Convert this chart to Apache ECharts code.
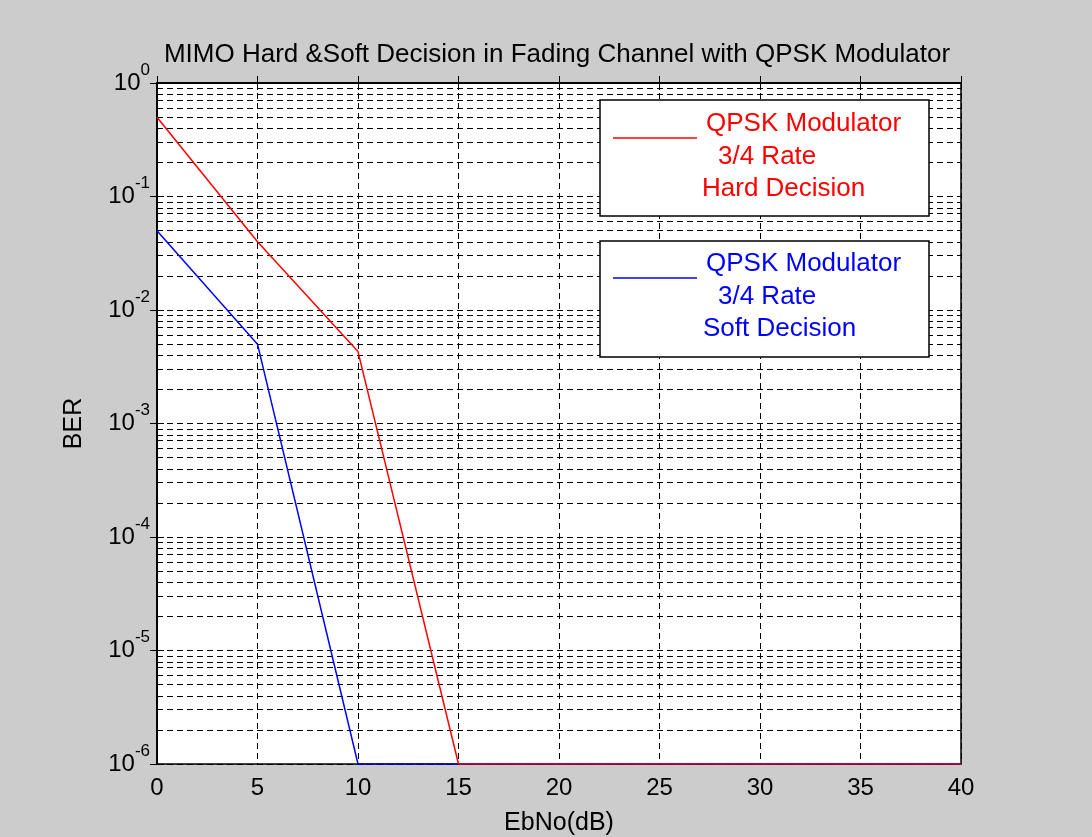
<!DOCTYPE html>
<html>
<head>
<meta charset="utf-8">
<script src="https://cdn.jsdelivr.net/npm/echarts@6/dist/echarts.min.js"></script>
<style>
  html, body { margin: 0; padding: 0; background: #cccccc; }
  #main { width: 1092px; height: 837px; }
</style>
</head>
<body>
<div id="main"></div>
<script>
// EbNo (dB) sample points
var ebno = [0, 5, 10, 15, 20, 25, 30, 35, 40];
// BER, hard decision (red) and soft decision (blue)
var berHard = [0.5, 0.04, 0.0043, 1e-6, 1e-6, 1e-6, 1e-6, 1e-6, 1e-6];
var berSoft = [0.05, 0.005, 1e-6, 1e-6, 1e-6, 1e-6, 1e-6, 1e-6, 1e-6];
var xTicks = [0, 5, 10, 15, 20, 25, 30, 35, 40];
var yDecades = [-6, -5, -4, -3, -2, -1, 0];

var FONT = 'Arial, "Liberation Sans", sans-serif';
var DASH = [6, 4];

// minor log grid lines (2..9 in every decade), placed on a hidden
// linear axis that runs in log10 units
var minorLines = [];
for (var e = -6; e < 0; e++) {
  for (var m = 2; m <= 9; m++) {
    minorLines.push({ yAxis: e + Math.log10(m) });
  }
}

function pairs(xs, ys) {
  return xs.map(function (x, i) { return [x, ys[i]]; });
}

var myChart = echarts.init(document.getElementById('main'));

var option = {
  backgroundColor: '#cccccc',
  animation: false,
  title: {
    text: 'MIMO Hard &Soft Decision in Fading Channel with QPSK Modulator',
    left: 552,
    top: 37,
    textAlign: 'center',
    textStyle: { fontFamily: FONT, fontSize: 26, fontWeight: 'normal', color: '#000' }
  },
  grid: {
    left: 157,
    top: 83,
    right: 131,
    bottom: 73,
    outerBoundsMode: 'none',
    show: true,
    backgroundColor: '#ffffff',
    borderColor: '#000',
    borderWidth: 1.5
  },
  xAxis: [
    {
      type: 'value',
      min: 0,
      max: 40,
      interval: 5,
      name: 'EbNo(dB)',
      nameLocation: 'middle',
      nameGap: 47,
      nameTextStyle: { fontFamily: FONT, fontSize: 25, color: '#000' },
      axisLine: { lineStyle: { color: '#000', width: 1.5 } },
      axisTick: { inside: true, length: 7, lineStyle: { color: '#000' } },
      axisLabel: {
        margin: 12,
        fontFamily: FONT,
        fontSize: 24,
        color: '#000',
        formatter: function (v) { return xTicks.indexOf(v) >= 0 ? String(v) : ''; }
      },
      splitLine: { show: true, lineStyle: { color: '#000', type: DASH, width: 1 } }
    },
    {
      type: 'value',
      position: 'top',
      min: 0,
      max: 40,
      interval: 5,
      axisLine: { lineStyle: { color: '#000', width: 1.5 } },
      axisTick: { inside: true, length: 7, lineStyle: { color: '#000' } },
      axisLabel: { show: false },
      splitLine: { show: false }
    }
  ],
  yAxis: [
    {
      type: 'log',
      logBase: 10,
      min: 1e-6,
      max: 1,
      name: 'BER',
      nameLocation: 'middle',
      nameGap: 70,
      nameRotate: 90,
      nameTextStyle: { fontFamily: FONT, fontSize: 25, color: '#000' },
      axisLine: { lineStyle: { color: '#000', width: 1.5 } },
      axisTick: { inside: true, length: 7, lineStyle: { color: '#000' } },
      axisLabel: {
        margin: 7,
        formatter: function (v) {
          var p = Math.round(Math.log10(v));
          if (yDecades.indexOf(p) < 0) return '';
          return '{b|10}{s|' + p + '}';
        },
        rich: {
          b: { fontFamily: FONT, fontSize: 24, color: '#000', lineHeight: 24 },
          s: { fontFamily: FONT, fontSize: 17, color: '#000', lineHeight: 17, padding: [0, 0, 26, 0] }
        }
      },
      splitLine: { show: true, lineStyle: { color: '#000', type: DASH, width: 1 } }
    },
    {
      type: 'log',
      logBase: 10,
      min: 1e-6,
      max: 1,
      position: 'right',
      axisLine: { lineStyle: { color: '#000', width: 1.5 } },
      axisTick: { inside: true, length: 7, lineStyle: { color: '#000' } },
      axisLabel: { show: false },
      splitLine: { show: false }
    },
    {
      type: 'value',
      min: -6,
      max: 0,
      show: false
    }
  ],
  graphic: [
    // hard decision legend box
    { type: 'rect', shape: { x: 600, y: 100, width: 329, height: 116 }, style: { fill: '#fff', stroke: '#000', lineWidth: 1.5 }, z: 100 },
    { type: 'line', shape: { x1: 613, y1: 138, x2: 697, y2: 138 }, style: { stroke: '#ff0000', lineWidth: 1.5 }, z: 101 },
    { type: 'text', x: 706, y: 124, style: { text: 'QPSK Modulator', fill: '#ff0000', font: '26px ' + FONT, verticalAlign: 'middle' }, z: 101 },
    { type: 'text', x: 718, y: 157, style: { text: '3/4 Rate', fill: '#ff0000', font: '26px ' + FONT, verticalAlign: 'middle' }, z: 101 },
    { type: 'text', x: 702, y: 189, style: { text: 'Hard Decision', fill: '#ff0000', font: '26px ' + FONT, verticalAlign: 'middle' }, z: 101 },
    // soft decision legend box
    { type: 'rect', shape: { x: 600, y: 241, width: 329, height: 116 }, style: { fill: '#fff', stroke: '#000', lineWidth: 1.5 }, z: 100 },
    { type: 'line', shape: { x1: 613, y1: 278, x2: 697, y2: 278 }, style: { stroke: '#0000ff', lineWidth: 1.5 }, z: 101 },
    { type: 'text', x: 706, y: 264, style: { text: 'QPSK Modulator', fill: '#0000ff', font: '26px ' + FONT, verticalAlign: 'middle' }, z: 101 },
    { type: 'text', x: 718, y: 297, style: { text: '3/4 Rate', fill: '#0000ff', font: '26px ' + FONT, verticalAlign: 'middle' }, z: 101 },
    { type: 'text', x: 703, y: 329, style: { text: 'Soft Decision', fill: '#0000ff', font: '26px ' + FONT, verticalAlign: 'middle' }, z: 101 }
  ],
  series: [
    {
      name: 'minor grid',
      type: 'line',
      yAxisIndex: 2,
      data: [],
      z: 1,
      silent: true,
      markLine: {
        silent: true,
        symbol: 'none',
        label: { show: false },
        lineStyle: { color: '#000', type: DASH, width: 1 },
        data: minorLines
      }
    },
    {
      name: 'Soft Decision',
      type: 'line',
      data: pairs(ebno, berSoft),
      showSymbol: false,
      symbol: 'none',
      z: 5,
      lineStyle: { color: '#0000ff', width: 1.5 },
      itemStyle: { color: '#0000ff' }
    },
    {
      name: 'Hard Decision',
      type: 'line',
      data: pairs(ebno, berHard),
      showSymbol: false,
      symbol: 'none',
      z: 5,
      lineStyle: { color: '#ff0000', width: 1.5 },
      itemStyle: { color: '#ff0000' }
    }
  ]
};

myChart.setOption(option);
</script>
</body>
</html>
